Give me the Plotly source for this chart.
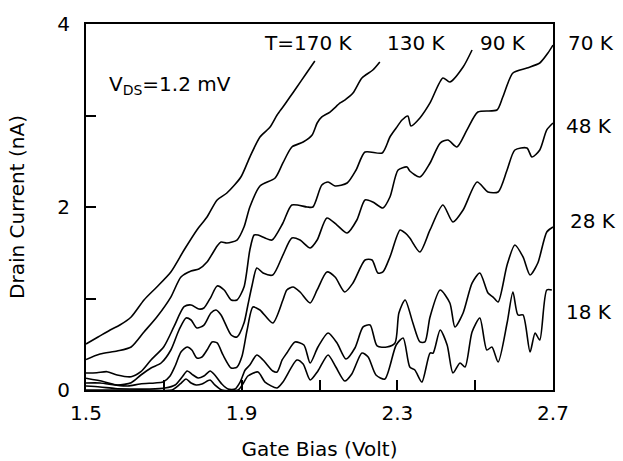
import plotly.graph_objects as go

# ---- data (Gate bias in V, drain current in nA) ----
v_170 = [1.500, 1.531, 1.562, 1.587, 1.616, 1.649, 1.682, 1.718, 1.752, 1.785, 1.811, 1.837, 1.862,
         1.898, 1.921, 1.947, 1.973, 1.991, 2.006, 2.024, 2.042, 2.065, 2.088]
i_170 = [0.503, 0.579, 0.656, 0.710, 0.798, 0.984, 1.126, 1.290, 1.530, 1.749, 1.891, 2.077, 2.153,
         2.328, 2.546, 2.765, 2.874, 3.005, 3.093, 3.202, 3.311, 3.454, 3.596]

v_130 = [1.500, 1.536, 1.580, 1.616, 1.649, 1.682, 1.718, 1.744, 1.770, 1.790, 1.811, 1.837, 1.847,
         1.862, 1.888, 1.906, 1.921, 1.947, 1.986, 2.006, 2.029, 2.058, 2.081, 2.094, 2.106, 2.127,
         2.153, 2.165, 2.186, 2.209, 2.237, 2.255]
i_130 = [0.333, 0.393, 0.426, 0.470, 0.634, 0.798, 1.016, 1.235, 1.301, 1.322, 1.399, 1.574, 1.617,
         1.607, 1.639, 1.781, 2.000, 2.230, 2.317, 2.481, 2.656, 2.710, 2.787, 2.918, 2.984, 3.038,
         3.137, 3.169, 3.246, 3.410, 3.497, 3.585]

v_90 = [1.500, 1.528, 1.554, 1.580, 1.616, 1.641, 1.667, 1.700, 1.726, 1.752, 1.770, 1.790, 1.803,
        1.821, 1.837, 1.855, 1.873, 1.888, 1.906, 1.921, 1.932, 1.942, 1.960, 1.978, 2.006, 2.029,
        2.068, 2.083, 2.106, 2.122, 2.140, 2.171, 2.194, 2.217, 2.261, 2.281, 2.297, 2.312, 2.327,
        2.335, 2.358, 2.384, 2.417, 2.435, 2.469, 2.492]
i_90 = [0.186, 0.189, 0.200, 0.164, 0.145, 0.200, 0.328, 0.473, 0.692, 0.910, 0.929, 0.885, 0.896,
        1.016, 1.137, 1.093, 0.984, 0.984, 1.126, 1.530, 1.694, 1.694, 1.661, 1.639, 1.825, 2.022,
        2.000, 2.000, 2.240, 2.273, 2.230, 2.262, 2.404, 2.601, 2.590, 2.765, 2.863, 2.951, 2.995,
        2.885, 2.973, 3.137, 3.410, 3.366, 3.530, 3.716]

v_70 = [1.500, 1.546, 1.580, 1.616, 1.641, 1.667, 1.693, 1.718, 1.739, 1.757, 1.770, 1.785, 1.803,
        1.821, 1.834, 1.847, 1.873, 1.888, 1.906, 1.916, 1.927, 1.939, 1.955, 1.980, 2.006, 2.029,
        2.050, 2.076, 2.094, 2.119, 2.145, 2.171, 2.196, 2.217, 2.237, 2.263, 2.281, 2.302, 2.325,
        2.332, 2.358, 2.384, 2.410, 2.430, 2.453, 2.479, 2.507, 2.556, 2.571, 2.597, 2.633, 2.666,
        2.687, 2.700]
i_70 = [0.128, 0.091, 0.055, 0.080, 0.164, 0.240, 0.295, 0.437, 0.656, 0.787, 0.765, 0.678, 0.710,
        0.842, 0.874, 0.820, 0.601, 0.579, 0.732, 0.929, 1.148, 1.333, 1.279, 1.257, 1.475, 1.661,
        1.639, 1.552, 1.639, 1.880, 1.803, 1.716, 1.858, 2.077, 2.055, 1.989, 2.109, 2.404, 2.437,
        2.393, 2.328, 2.481, 2.699, 2.732, 2.656, 2.842, 3.038, 3.060, 3.202, 3.464, 3.519, 3.574,
        3.683, 3.770]

v_48 = [1.500, 1.536, 1.575, 1.608, 1.639, 1.677, 1.698, 1.716, 1.729, 1.744, 1.760, 1.772, 1.785,
        1.798, 1.811, 1.824, 1.837, 1.852, 1.873, 1.888, 1.901, 1.914, 1.929, 1.947, 1.980, 2.006,
        2.016, 2.032, 2.050, 2.076, 2.094, 2.119, 2.140, 2.165, 2.186, 2.217, 2.235, 2.250, 2.263,
        2.281, 2.307, 2.320, 2.332, 2.358, 2.384, 2.417, 2.443, 2.469, 2.505, 2.533, 2.559, 2.582,
        2.602, 2.633, 2.646, 2.666, 2.684, 2.700]
i_48 = [0.077, 0.077, 0.055, 0.044, 0.066, 0.077, 0.087, 0.153, 0.262, 0.415, 0.470, 0.437, 0.350,
        0.361, 0.437, 0.525, 0.514, 0.383, 0.240, 0.251, 0.372, 0.656, 0.907, 0.874, 0.732, 0.984,
        1.093, 1.126, 1.071, 0.951, 1.093, 1.290, 1.235, 1.071, 1.169, 1.421, 1.421, 1.279, 1.290,
        1.454, 1.749, 1.716, 1.661, 1.508, 1.749, 2.022, 1.836, 1.967, 2.273, 2.164, 2.164, 2.404,
        2.623, 2.645, 2.546, 2.623, 2.842, 2.918]

v_28 = [1.500, 1.536, 1.575, 1.613, 1.664, 1.703, 1.729, 1.747, 1.760, 1.775, 1.788, 1.803, 1.819,
        1.831, 1.849, 1.865, 1.883, 1.896, 1.909, 1.921, 1.939, 1.955, 1.980, 1.991, 2.004, 2.016,
        2.037, 2.060, 2.076, 2.096, 2.122, 2.145, 2.168, 2.191, 2.212, 2.230, 2.248, 2.273, 2.294,
        2.304, 2.320, 2.340, 2.358, 2.371, 2.384, 2.410, 2.435, 2.448, 2.469, 2.492, 2.512, 2.533,
        2.546, 2.559, 2.582, 2.602, 2.623, 2.641, 2.661, 2.684, 2.700]
i_28 = [0.044, 0.033, 0.016, 0.011, 0.011, 0.022, 0.055, 0.142, 0.208, 0.164, 0.131, 0.153, 0.208,
        0.164, 0.066, 0.011, 0.011, 0.087, 0.219, 0.273, 0.383, 0.328, 0.208, 0.197, 0.328, 0.404,
        0.525, 0.492, 0.295, 0.470, 0.623, 0.514, 0.339, 0.459, 0.689, 0.710, 0.481, 0.470, 0.514,
        0.842, 0.984, 0.732, 0.525, 0.525, 0.798, 1.093, 0.951, 0.689, 0.842, 1.169, 1.279, 1.060,
        1.016, 0.962, 1.366, 1.585, 1.454, 1.257, 1.388, 1.727, 1.781]

v_18 = [1.500, 1.664, 1.721, 1.742, 1.757, 1.770, 1.783, 1.798, 1.819, 1.831, 1.849, 1.891, 1.903,
        1.916, 1.942, 1.960, 1.991, 2.006, 2.042, 2.058, 2.076, 2.096, 2.122, 2.142, 2.165, 2.183,
        2.209, 2.225, 2.245, 2.268, 2.297, 2.315, 2.332, 2.345, 2.363, 2.384, 2.392, 2.410, 2.428,
        2.443, 2.461, 2.474, 2.492, 2.512, 2.530, 2.543, 2.559, 2.582, 2.597, 2.610, 2.623, 2.641,
        2.654, 2.666, 2.684, 2.697]
i_18 = [0.000, 0.000, 0.000, 0.066, 0.120, 0.077, 0.055, 0.066, 0.109, 0.055, 0.000, 0.000, 0.066,
        0.153, 0.197, 0.087, 0.022, 0.087, 0.328, 0.284, 0.109, 0.208, 0.383, 0.251, 0.098, 0.175,
        0.404, 0.361, 0.164, 0.120, 0.492, 0.568, 0.251, 0.219, 0.087, 0.404, 0.404, 0.656, 0.492,
        0.186, 0.295, 0.251, 0.634, 0.787, 0.437, 0.470, 0.306, 0.732, 1.071, 0.820, 0.820, 0.415,
        0.623, 0.546, 1.093, 1.093]

series = [(v_170, i_170), (v_130, i_130), (v_90, i_90), (v_70, i_70),
          (v_48, i_48), (v_28, i_28), (v_18, i_18)]

# labels inside the plot (data coordinates)
inner_labels = [("T=170 K", 2.073, 3.792, "center"), ("130 K", 2.350, 3.792, "center"),
                ("90 K", 2.571, 3.792, "center"),
                ("V<sub>DS</sub>=1.2 mV", 1.554, 3.333, "left")]
# labels to the right of the plot (paper coordinates)
outer_labels = [("70 K", 1.081, 0.948), ("48 K", 1.077, 0.721),
                ("28 K", 1.086, 0.462), ("18 K", 1.077, 0.213)]

x_labels = [1.5, 1.9, 2.3, 2.7]
x_minor = [1.7, 2.1, 2.5]
y_labels = [0, 2, 4]
y_minor = [1, 3]

FONT = "DejaVu Sans, Arial, sans-serif"
FS = 20

fig = go.Figure()
for v, i in series:
    fig.add_trace(go.Scatter(x=v, y=i, mode="lines",
                             line=dict(color="black", width=1.6, shape="spline", smoothing=0.7),
                             showlegend=False, hoverinfo="skip"))

for text, x, y, anc in inner_labels:
    fig.add_annotation(x=x, y=y, xref="x", yref="y", text=text, showarrow=False,
                       xanchor=anc, yanchor="middle",
                       font=dict(family=FONT, size=FS, color="black"))
for text, x, y in outer_labels:
    fig.add_annotation(x=x, y=y, xref="paper", yref="paper", text=text, showarrow=False,
                       xanchor="center", yanchor="middle",
                       font=dict(family=FONT, size=FS, color="black"))

axis_common = dict(showline=True, linecolor="black", linewidth=2, mirror=True,
                   ticks="inside", ticklen=10, tickwidth=2, tickcolor="black",
                   showgrid=False, zeroline=False, automargin=False,
                   tickfont=dict(family=FONT, size=FS, color="black"))

fig.update_xaxes(range=[1.5, 2.7], tickvals=x_labels, ticktext=[str(t) for t in x_labels],
                 minor=dict(tickvals=x_minor, ticks="inside", ticklen=10, tickwidth=2,
                            tickcolor="black"),
                 ticklabelstandoff=4,
                 title=dict(text="Gate Bias (Volt)", standoff=18,
                            font=dict(family=FONT, size=FS, color="black")),
                 **axis_common)
fig.update_yaxes(range=[0, 4], tickvals=y_labels, ticktext=[str(t) for t in y_labels],
                 minor=dict(tickvals=y_minor, ticks="inside", ticklen=10, tickwidth=2,
                            tickcolor="black"),
                 ticklabelstandoff=10,
                 title=dict(text="Drain Current (nA)", standoff=27,
                            font=dict(family=FONT, size=FS, color="black")),
                 **axis_common)

fig.update_layout(width=623, height=461, margin=dict(l=86, r=70, t=24, b=71),
                  plot_bgcolor="white", paper_bgcolor="white")

fig.write_html("out.html", config={"displayModeBar": False},
               post_script="document.body.style.margin='0';document.body.style.overflow='hidden';")
